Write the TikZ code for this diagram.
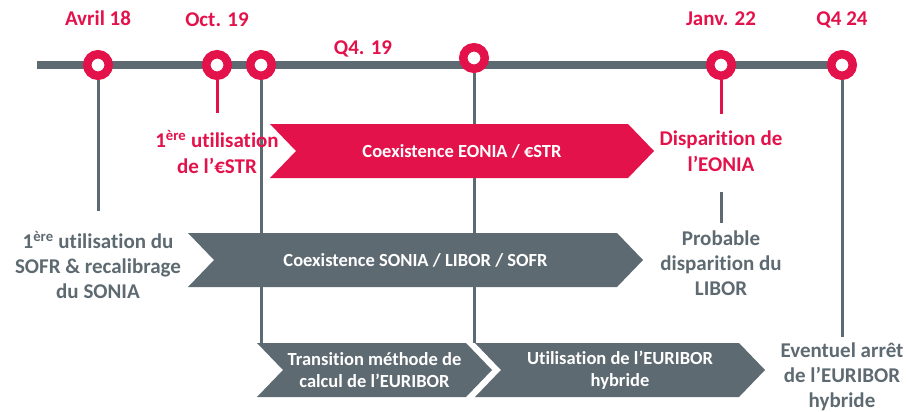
\documentclass[tikz,border=0pt]{standalone}
\usepackage{fontspec}
\setmainfont{Carlito}[Ligatures=NoCommon]
\usetikzlibrary{backgrounds}
\definecolor{TlRed}{HTML}{E3124B}
\definecolor{TlGrey}{HTML}{5E6A71}

\tikzset{
  milestone/.style={circle,draw=TlRed,line width=8.5pt,fill=white,minimum size=21.5pt,inner sep=0pt},
  datelabel/.style={text=TlRed,anchor=base,inner sep=0pt,font=\fontsize{21}{25.5}\selectfont\bfseries},
  redlabel/.style={text=TlRed,align=center,inner sep=0pt,font=\fontsize{21}{26}\selectfont\bfseries},
  greylabel/.style={text=TlGrey,align=center,inner sep=0pt,font=\fontsize{21}{25}\selectfont\bfseries},
  bartext/.style={text=white,align=center,inner sep=0pt,minimum height=54pt,font=\fontsize{18.5}{22}\selectfont\bfseries},
  timebar/.style={draw=TlGrey,line width=8pt},
  redstem/.style={draw=TlRed,line width=3pt},
  greystem/.style={draw=TlGrey,line width=3pt},
}

% chevron: name, colour, left x, top-right x, centre y, text
\newcommand{\chevron}[6]{%
  \fill[#2] (#3,#5-27) -- (#4,#5-27) -- (#4+26,#5) -- (#4,#5+27) -- (#3,#5+27) -- (#3+26,#5) -- cycle;
  \node[bartext] (#1) at ({(#3+#4+26)/2},#5) {#6};
}

\begin{document}
\begin{tikzpicture}[x=1pt,y=-1pt]
  \useasboundingbox (0,0) rectangle (907,412);

  % milestones on the time line
  \node[milestone] (avr18) at (98,65) {};
  \node[milestone] (oct19) at (217,65) {};
  \node[milestone] (nov19) at (261,65) {};
  \node[milestone] (q419) at (474,58) {};
  \node[milestone] (jan22) at (721,65) {};
  \node[milestone] (q424) at (842,65) {};

  \node[datelabel] (davr18) at (98,26) {Avril 18};
  \node[datelabel] (doct19) at (217,27) {Oct. 19};
  \node[datelabel] (dq419) at (363,55) {Q4. 19};
  \node[datelabel] (djan22) at (721,26) {Janv. 22};
  \node[datelabel] (dq424) at (842,26) {Q4 24};

  % events
  \node[greylabel] (sofr) at (98,265) {1\textsuperscript{ère} utilisation du\\SOFR \& recalibrage\\du SONIA};
  \node[redlabel] (estr) at (217,152) {1\textsuperscript{ère} utilisation\\de l’€STR};
  \node[redlabel] (eonia) at (721,151) {Disparition de\\l’EONIA};
  \node[greylabel] (libor) at (721,263) {Probable\\disparition du\\LIBOR};
  \node[greylabel] (euribor) at (842,377) {Eventuel arrêt\\de l’EURIBOR\\hybride};

  % periods
  \chevron{eoniabar}{TlRed}{270}{628}{151}{Coexistence EONIA / €STR}
  \chevron{soniabar}{TlGrey}{188}{617}{260}{Coexistence SONIA / LIBOR / SOFR}
  \chevron{trans}{TlGrey}{257}{466}{370}{Transition méthode de\\calcul de l’EURIBOR}
  \chevron{util}{TlGrey}{475}{739}{370}{Utilisation de l’EURIBOR\\hybride}

  \begin{scope}[on background layer]
    \draw[timebar] (37,65) -- (842,65);
    \draw[greystem,shorten >=20pt] (avr18) -- (sofr);
    \draw[redstem,shorten >=17pt] (oct19) -- (estr);
    \draw[greystem] (nov19) -- (nov19 |- trans.north);
    \draw[greystem] (q419) -- (q419 |- util.north);
    \draw[redstem,shorten >=16pt] (jan22) -- (eonia);
    \draw[greystem,shorten <=20pt,shorten >=7pt] (eonia) -- (libor);
    \draw[greystem,shorten >=6pt] (q424) -- (euribor);
  \end{scope}
\end{tikzpicture}
\end{document}
